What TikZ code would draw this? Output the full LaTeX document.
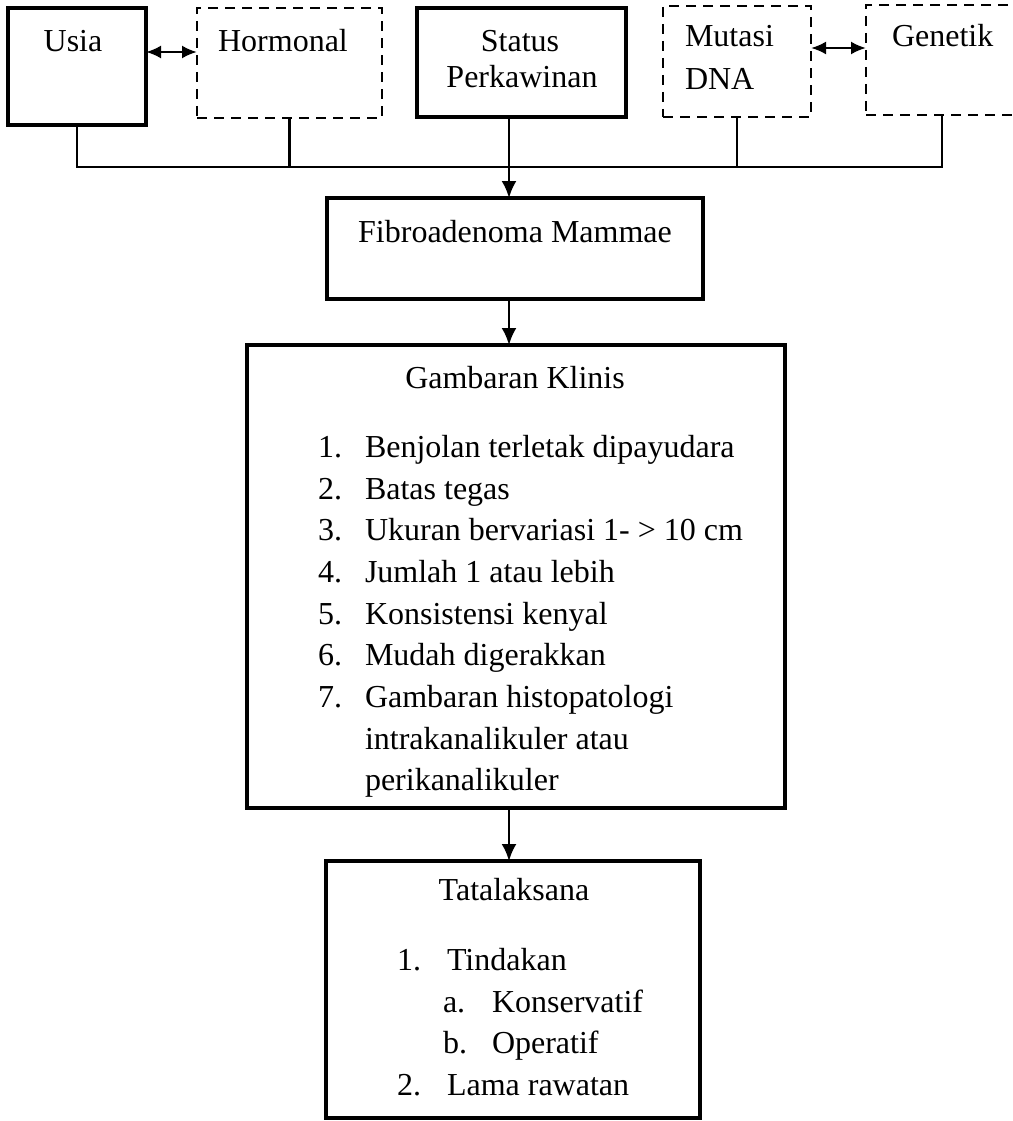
\documentclass[tikz,border=0pt]{standalone}
\usepackage{fontspec}
\setmainfont{Liberation Serif}
\usetikzlibrary{arrows.meta}
\tikzset{
  thickbox/.style={draw=black, line width=4.5pt, rectangle, inner sep=0pt, outer sep=0pt, fill=none},
  dashbox/.style={draw=black, line width=2.5pt, dash pattern=on 10pt off 7pt, rectangle, inner sep=0pt, outer sep=0pt},
  txt/.style={anchor=base, inner sep=0pt, outer sep=0pt, font=\fontsize{32}{40}\selectfont},
  txtl/.style={txt, anchor=base west},
  conn/.style={draw=black, line width=2.4pt},
  tipa/.style={},
  arr/.style={conn, -{Latex[length=17pt,width=15pt]}},
  dbl/.style={conn, {Latex[length=15pt,width=13pt]}-{Latex[length=15pt,width=13pt]}}
}
\begin{document}
\begin{tikzpicture}[x=1pt,y=-1pt]
\useasboundingbox (0,0) rectangle (1012,1121);
\clip (0,0) rectangle (1012,1121);
\fill[white] (0,0) rectangle (1012,1121);

% boxes
\node[thickbox, minimum width=138pt, minimum height=117pt] (usia) at (77,66.5) {};
\node[dashbox, minimum width=185pt, minimum height=110pt] (hormonal) at (289.5,63) {};
\node[thickbox, minimum width=209pt, minimum height=109pt] (status) at (521.5,62.5) {};
\node[dashbox, minimum width=148pt, minimum height=111pt] (mutasi) at (737,61.5) {};
\node[dashbox, minimum width=152pt, minimum height=110pt] (genetik) at (942,60) {};
\node[thickbox, line width=4pt, minimum width=376pt, minimum height=101pt] (fibro) at (515,248.5) {};
\node[thickbox, line width=4pt, minimum width=538pt, minimum height=463pt] (klinis) at (516,576.5) {};
\node[thickbox, line width=4pt, minimum width=374pt, minimum height=257pt] (tata) at (513,989.5) {};

% texts
\node[txt] (tUsia) at (73,52) {Usia};
\node[txt] (tHorm) at (283,52) {Hormonal};
\node[txt] (tStat1) at (520,52) {Status};
\node[txt] (tStat2) at (522,88) {Perkawinan};
\node[txtl] (tMut1) at (685,47) {Mutasi};
\node[txtl] (tMut2) at (685,90) {DNA};
\node[txtl] (tGen) at (892,47) {Genetik};
\node[txt] (tFib) at (515,242) {Fibroadenoma Mammae};

\node[txt] (tKl) at (515,388) {Gambaran Klinis};
\node[txtl] (n1) at (318,457) {1.}; \node[txtl] (k1) at (365,457) {Benjolan terletak dipayudara};
\node[txtl] (n2) at (318,499) {2.}; \node[txtl] (k2) at (365,499) {Batas tegas};
\node[txtl] (n3) at (318,540) {3.}; \node[txtl] (k3) at (365,540) {Ukuran bervariasi 1- > 10 cm};
\node[txtl] (n4) at (318,582) {4.}; \node[txtl] (k4) at (365,582) {Jumlah 1 atau lebih};
\node[txtl] (n5) at (318,624) {5.}; \node[txtl] (k5) at (365,624) {Konsistensi kenyal};
\node[txtl] (n6) at (318,665) {6.}; \node[txtl] (k6) at (365,665) {Mudah digerakkan};
\node[txtl] (n7) at (318,707) {7.}; \node[txtl] (k7) at (365,707) {Gambaran histopatologi};
\node[txtl] (k7b) at (365,749) {intrakanalikuler atau};
\node[txtl] (k7c) at (365,790) {perikanalikuler};

\node[txt] (tTa) at (514,900) {Tatalaksana};
\node[txtl] (m1) at (397,970) {1.}; \node[txtl] (t1) at (447,970) {Tindakan};
\node[txtl] (ma) at (443,1012) {a.}; \node[txtl] (ta) at (492,1012) {Konservatif};
\node[txtl] (mb) at (443,1053) {b.}; \node[txtl] (tb) at (492,1053) {Operatif};
\node[txtl] (m2) at (397,1095) {2.}; \node[txtl] (t2) at (447,1095) {Lama rawatan};

% coordinates
\coordinate (bus) at (0,167);
\coordinate (trunk) at (509,0);
\coordinate (ar1) at (0,52);
\coordinate (ar2) at (0,48);

% connectors
\draw[conn] (usia.south) -- (usia.south |- bus) -- (genetik.south |- bus) -- (genetik.south);
\draw[conn] (hormonal.south) -- (hormonal.south |- bus);
\draw[conn] (mutasi.south) -- (mutasi.south |- bus);
\draw[arr] (trunk |- status.south) -- (trunk |- fibro.north);
\draw[arr] (trunk |- fibro.south) -- (trunk |- klinis.north);
\draw[arr] (trunk |- klinis.south) -- (trunk |- tata.north);
\draw[dbl] (usia.east |- ar1) -- (hormonal.west |- ar1);
\draw[dbl] (mutasi.east |- ar2) -- (genetik.west |- ar2);
\end{tikzpicture}
\end{document}
